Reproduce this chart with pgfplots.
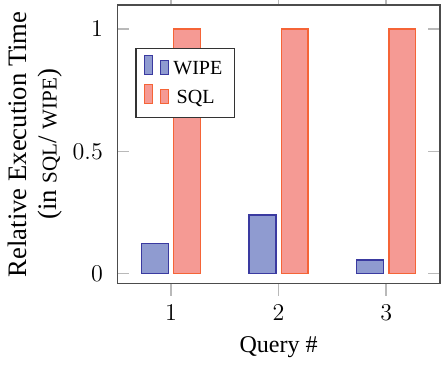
\documentclass[border=0pt]{standalone}
\usepackage{pgfplots}
\pgfplotsset{compat=1.18}
\usepackage{fontspec}
\setmainfont{Liberation Serif}
\definecolor{wipefill}{RGB}{143,155,208}
\definecolor{wipeedge}{RGB}{58,58,160}
\definecolor{sqlfill}{RGB}{245,154,148}
\definecolor{sqledge}{RGB}{245,100,55}
\begin{document}
\fontsize{12}{14}\selectfont
\begin{tikzpicture}
\begin{axis}[
  scale only axis,
  width=161pt, height=139pt,
  xmin=0.5, xmax=3.5,
  ymin=-0.041, ymax=1.098,
  xtick={1,2,3},
  ytick={0,0.5,1},
  yticklabels={$0$,$0.5$,$1$},
  xticklabels={$1$,$2$,$3$},
  tick label style={font=\fontsize{12}{14}\selectfont},
  xtick align=outside,
  ytick align=inside,
  major tick length=6pt,
  tick style={gray!55, line width=0.8pt},
  axis line style={black!70, line width=0.7pt},
  xticklabel style={yshift=-0.5pt},
  yticklabel style={xshift=-3pt},
  xlabel={Query \#},
  ylabel={Relative Execution Time\\(in {\fontsize{10.5}{11}\selectfont SQL}/ {\fontsize{10.5}{11}\selectfont WIPE})},
  ylabel style={align=center, font=\fontsize{13.3}{15}\selectfont, yshift=-3pt},
  xlabel style={yshift=0pt},
  legend style={at={(0.056,0.845)}, anchor=north west, draw=black!80, line width=0.6pt, font=\fontsize{10}{11}\selectfont, row sep=1pt, inner sep=3pt, inner xsep=4pt, nodes={inner sep=2pt}},
  legend cell align=left,
  legend image code/.code={
    \draw[#1] (0pt,-2.5pt) rectangle (4pt,7pt);
    \draw[#1] (8pt,-2.5pt) rectangle (12pt,4.5pt);
  },
]
\addplot[ybar, bar width=0.25, bar shift=-0.15, fill=wipefill, draw=wipeedge, line width=0.7pt]
  coordinates {(1,0.122) (2,0.240) (3,0.055)};
\addlegendentry{WIPE}
\addplot[ybar, bar width=0.25, bar shift=0.15, fill=sqlfill, draw=sqledge, line width=0.7pt]
  coordinates {(1,1) (2,1) (3,1)};
\addlegendentry{\,SQL}
\end{axis}
\pgfresetboundingbox
\path[use as bounding box] (current axis.outer south west) rectangle ([xshift=2pt,yshift=2.5pt]current axis.north east);
\end{tikzpicture}
\end{document}
